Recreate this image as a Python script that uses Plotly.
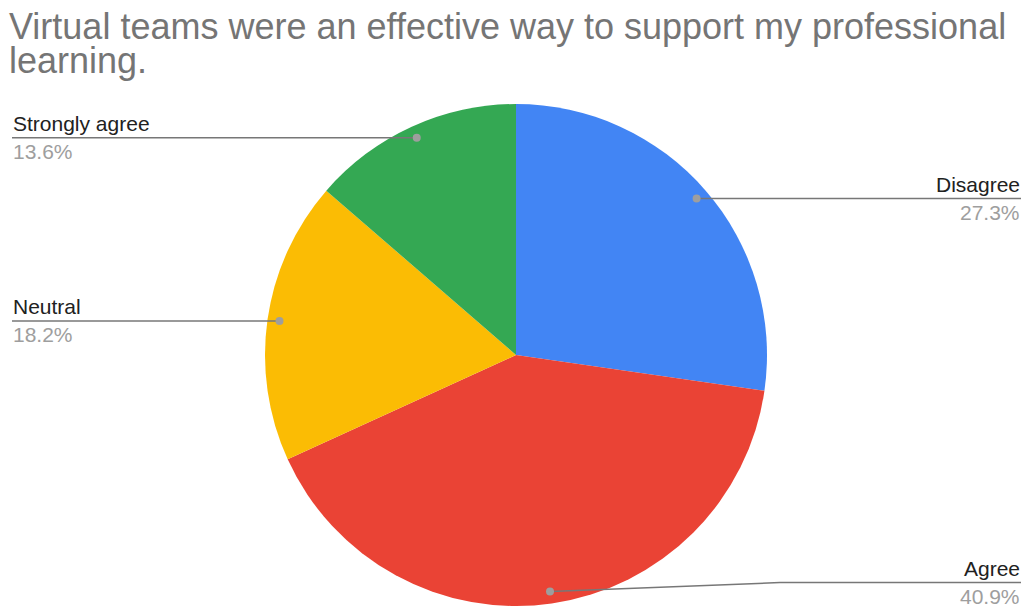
import math
import plotly.graph_objects as go

# ---- data ----
labels = ["Disagree", "Agree", "Neutral", "Strongly agree"]
values = [6, 9, 4, 3]
colors = ["#4285F4", "#EA4335", "#FBBC04", "#34A853"]
title_lines = ["Virtual teams were an effective way to support my professional", "learning."]

# ---- layout constants (pixels) ----
W, H = 1025, 606
CX, CY, R = 516, 355, 251
DOT_FRAC = 0.952
label_side = ["right", "right", "left", "left"]
label_dy = [0, -9, 0, 0]
LEFT_X, RIGHT_X = 12, 1021
FONT = "Liberation Sans, Arial, Helvetica"
LABEL_SIZE = 21
TITLE_SIZE = 36

total = sum(values)
pcts = [f"{v / total * 100:.1f}%" for v in values]

fig = go.Figure()
fig.add_trace(go.Pie(
    labels=labels, values=values, sort=False, direction="clockwise", rotation=0,
    marker=dict(colors=colors, line=dict(width=0)), textinfo="none",
    hoverinfo="label+percent", showlegend=False,
    domain=dict(x=[(CX - R) / W, (CX + R) / W], y=[(H - CY - R) / H, (H - CY + R) / H]),
))

LINE = dict(color="#777777", width=1.5)
shapes, annotations = [], []
cum = 0
for lab, v, pct, side, dy in zip(labels, values, pcts, label_side, label_dy):
    mid = (cum + v / 2) / total * 2 * math.pi
    cum += v
    dx_ = CX + DOT_FRAC * R * math.sin(mid)
    dy_ = CY - DOT_FRAC * R * math.cos(mid)
    ly = dy_ + dy
    if side == "right":
        if dy != 0:
            bend_x = dx_ + 230
            shapes.append(dict(type="line", x0=dx_, y0=dy_, x1=bend_x, y1=ly,
                               line=LINE, xref="x", yref="y"))
            shapes.append(dict(type="line", x0=bend_x, y0=ly, x1=RIGHT_X, y1=ly,
                               line=LINE, xref="x", yref="y"))
        else:
            shapes.append(dict(type="line", x0=dx_, y0=ly, x1=RIGHT_X, y1=ly,
                               line=LINE, xref="x", yref="y"))
        tx, xa = RIGHT_X, "right"
    else:
        shapes.append(dict(type="line", x0=LEFT_X, y0=ly, x1=dx_, y1=ly,
                           line=LINE, xref="x", yref="y"))
        tx, xa = LEFT_X, "left"
    shapes.append(dict(type="circle", x0=dx_ - 4, x1=dx_ + 4, y0=dy_ - 4, y1=dy_ + 4,
                       fillcolor="#9e9e9e", line=dict(width=0), xref="x", yref="y"))
    annotations.append(dict(x=tx, y=ly - 2, xref="x", yref="y", text=lab, showarrow=False,
                            xanchor=xa, yanchor="bottom", borderpad=0,
                            font=dict(family=FONT, size=LABEL_SIZE, color="#212121")))
    annotations.append(dict(x=tx, y=ly + 1, xref="x", yref="y", text=pct, showarrow=False,
                            xanchor=xa, yanchor="top", borderpad=0,
                            font=dict(family=FONT, size=LABEL_SIZE, color="#9e9e9e")))

for i, line in enumerate(title_lines):
    annotations.append(dict(x=8, y=5 + 34 * i, xref="x", yref="y", text=line, showarrow=False,
                            xanchor="left", yanchor="top", align="left", borderpad=0,
                            font=dict(family=FONT, size=TITLE_SIZE, color="#757575")))

fig.update_layout(
    width=W, height=H, margin=dict(l=0, r=0, t=0, b=0),
    paper_bgcolor="white", plot_bgcolor="rgba(0,0,0,0)",
    xaxis=dict(range=[0, W], visible=False, fixedrange=True),
    yaxis=dict(range=[H, 0], visible=False, fixedrange=True),
    shapes=shapes, annotations=annotations,
)
fig.write_html("out.html")
